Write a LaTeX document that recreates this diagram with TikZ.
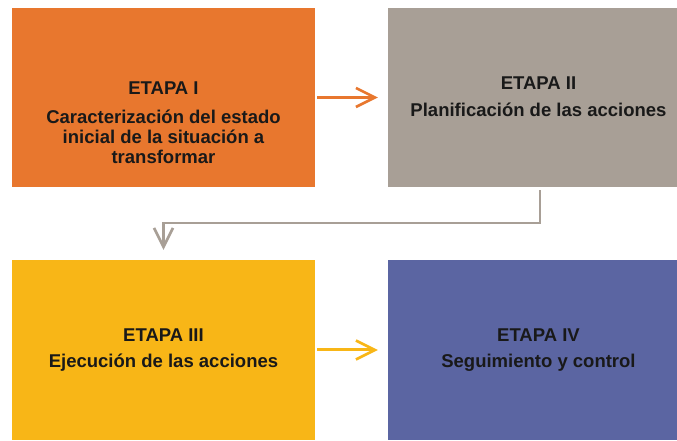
\documentclass[tikz,border=0pt]{standalone}
\usepackage{fontspec}
\setmainfont{Liberation Sans}
\usetikzlibrary{arrows.meta}
\definecolor{naranja}{HTML}{E8772E}
\definecolor{gris}{HTML}{A89F96}
\definecolor{amarillo}{HTML}{F8B617}
\definecolor{azul}{HTML}{5B65A2}
\begin{document}
\begin{tikzpicture}[x=1pt,y=1pt,
    etapa/.style={rectangle, inner sep=0pt, minimum height=179pt},
    texto/.style={inner sep=0pt, align=center,
      font=\fontsize{18.5}{20}\selectfont\bfseries, text=black!90},
    flecha/.style={line width=3pt, -{Straight Barb[length=19pt,width=19pt,line width=2.6pt]}}]
  \useasboundingbox (0,0) rectangle (677,441);
  \draw
    (163.5,343.5) node[etapa, fill=naranja, minimum width=303pt] (e1) {}
    (532.5,343.5) node[etapa, fill=gris, minimum width=289pt] (e2) {}
    (163.5,91) node[etapa, fill=amarillo, minimum width=303pt, minimum height=180pt] (e3) {}
    (532.5,91) node[etapa, fill=azul, minimum width=289pt, minimum height=180pt] (e4) {};
  \node[texto] (t1) at ([yshift=-25pt]e1.center)
    {ETAPA I\\[9pt]Caracterización del estado\\inicial de la situación a\\transformar};
  \node[texto] (t2) at ([xshift=6pt,yshift=1pt]e2.center)
    {ETAPA II\\[7pt]Planificación de las acciones};
  \node[texto] (t3) at (e3.center)
    {ETAPA III\\[6pt]Ejecución de las acciones};
  \node[texto] (t4) at ([xshift=6pt]e4.center)
    {ETAPA IV\\[6pt]Seguimiento y control};
  \begin{scope}[flecha]
    \draw[naranja, shorten <=2pt, shorten >=10pt] (e1) to (e2);
    \draw[amarillo, shorten <=2pt, shorten >=10pt] (e3) to (e4);
    \draw[gris, line width=2.6pt, shorten >=10pt] ([xshift=7.5pt,yshift=-3pt]e2.south)
      -- ++(0,-33) -| (e3.north);
  \end{scope}
\end{tikzpicture}
\end{document}
